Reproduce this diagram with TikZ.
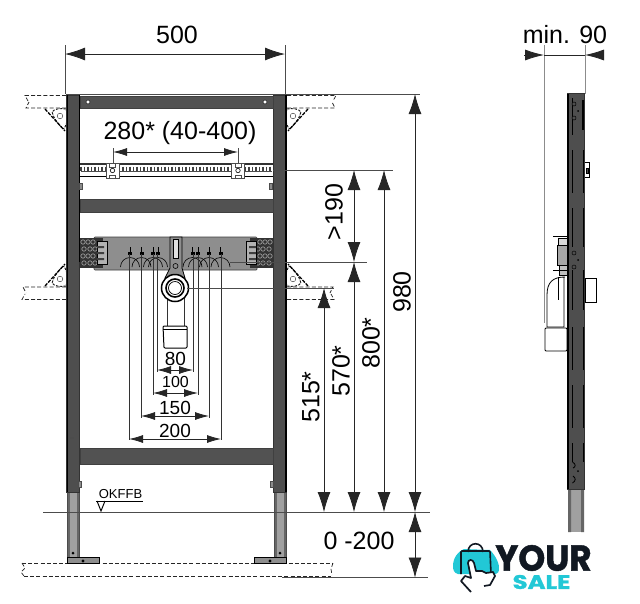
\documentclass[tikz,border=0pt]{standalone}
\usepackage{fontspec}
\setmainfont{Liberation Sans}
\newfontfamily\logofont[BoldFeatures={FakeBold=1.3}]{Poppins}
\usetikzlibrary{arrows.meta}
\definecolor{post}{HTML}{4E4E4E}
\definecolor{bar}{HTML}{525252}
\definecolor{plate}{HTML}{8E8E8E}
\definecolor{legc}{HTML}{A0A0A0}
\definecolor{legs}{HTML}{666666}
\definecolor{teal}{HTML}{22C8D6}
\definecolor{ink}{HTML}{111822}
\tikzset{
  dim/.style={draw=black!85,line width=0.8pt,{Latex[length=20pt,width=13pt]}-{Latex[length=20pt,width=13pt]}},
  dimsm/.style={draw=black!85,line width=0.8pt,{Latex[length=14pt,width=8pt]}-{Latex[length=14pt,width=8pt]}},
  ext/.style={draw=black!70,line width=0.8pt},
  extg/.style={draw=black!45,line width=1pt},
  lbl/.style={inner sep=0pt,font=\fontsize{25}{25}\selectfont},
  lblv/.style={lbl,rotate=90},
  hidden/.style={draw=black!85,line width=0.7pt,dash pattern=on 4pt off 2.2pt},
  blobline/.style={draw=black!90,line width=0.9pt,dash pattern=on 2.5pt off 1.3pt},
  steel/.style={fill=post,draw=black!80,line width=0.5pt},
  wallbar/.style={fill=bar,draw=black!75,line width=0.5pt},
}
\begin{document}
\begin{tikzpicture}[x=1pt,y=-1pt]
\useasboundingbox[fill=white] (0,0) rectangle (640,603);

% walls and anchors
\foreach \ox/\oy/\sx/\sy/\len in {287/94/1/1/49, 66/94/-1/1/41, 287/301/1/-1/47, 66/301/-1/-1/44}{
  \begin{scope}[shift={(\ox,\oy)},xscale=\sx,yscale=\sy]
    \draw[hidden] (0,1.5) -- (\len,1.5) -- (\len-3,7) (0,14) -- (\len-1,14) -- (\len-4,8);
    \draw[blobline] (0,15) .. controls (6,14) and (12,15) .. (14,18) .. controls (12,25) and (7,32) .. (2,35) .. controls (-2,28) and (-2,20) .. (0,15);
    \draw[black,line width=1.3pt,dash pattern=on 3.5pt off 1.2pt] (21,15) -- (1,37);
    \draw[black!70,line width=0.5pt] (6,22) circle[radius=2.8];
  \end{scope}
}

% floor
\draw[hidden] (22,563) -- (333,563) (24,576) -- (331,576);
\draw[hidden] (22,563) -- (25,568) -- (21,572) -- (24,576) (333,563) -- (331,569) -- (332,575);

% legs
\foreach \lx in {67,274}{
  \fill[legc] (\lx,492) rectangle +(12,65);
  \fill[legs] (\lx,492) rectangle +(2.5,65);
  \fill[legs] (\lx+9.5,492) rectangle +(2.5,65);
  \draw[black!70,line width=0.5pt] (\lx,492) rectangle +(12,65);
  \fill[black] (\lx+6,553) circle[radius=1.5];
}
\draw[black,line width=0.7pt,fill=plate] (67,557) rectangle (99,563);
\draw[black,line width=0.7pt,fill=plate] (254,557) rectangle (286,563);
\fill[black] (83,561) circle[radius=1.6] (270,561) circle[radius=1.6];

% posts
\draw[steel] (66.5,95) rectangle (79.5,492);
\draw[steel] (273.5,95) rectangle (286.5,492);
\draw[black,line width=1.6pt] (79.5,95) -- (79.5,262);
\draw[black,line width=1.8pt] (286,95) -- (286,492);
\draw[black,line width=0.8pt] (67,95) -- (67,492);
\draw[black!70,line width=1.2pt] (70,438) -- (74,438) (278,438) -- (282,438);
\foreach \tx/\ty in {81/186,271/186,80/484,272/484}{
  \draw[black!70,fill=black!45,line width=0.5pt] (\tx-1.5,\ty-3) rectangle (\tx+1.5,\ty+3);
}

% cross bars
\draw[wallbar] (80,96) rectangle (273,108);
\fill[white,draw=black,line width=0.4pt] (88,102) circle[radius=2] (265,102) circle[radius=2];
\draw[wallbar] (80,199.5) rectangle (273,212);
\draw[wallbar] (80,448) rectangle (273,464.5);

% rail
\draw[black!80,line width=1.2pt] (80,164) -- (273,164);
\draw[black,line width=1.8pt] (80,176.5) -- (273,176.5);
\draw[black!70,line width=0.7pt] (81,171) -- (272,171);
\foreach \n in {0,...,54}{
  \draw[black!75,line width=1.2pt] (81+\n*3.5,166.5) -- (81+\n*3.5,171);
}
\foreach \cx in {112.5,238}{
  \draw[black!70,fill=white,line width=0.6pt] (\cx-6.5,163) rectangle (\cx+6.5,178);
  \draw[black,line width=0.6pt] (\cx,170.5) circle[radius=2.2];
  \draw[black!70,line width=0.6pt] (\cx-3,163) -- (\cx-3,167) -- (\cx+3,167) -- (\cx+3,163) (\cx-3,178) -- (\cx-3,175) -- (\cx+3,175) -- (\cx+3,178);
}

% connection plate
\draw[black!75,fill=plate,line width=0.7pt,rounded corners=1pt] (94,237) rectangle (257,270);
\foreach \bx/\sx in {80/1,273/-1}{
  \begin{scope}[shift={(\bx,238)},xscale=\sx]
    \fill[black!80] (0,0) rectangle (23,30);
    \foreach \p/\q in {3/4,8/4,13/4,4/11,10/11,15/11,3/18,8/18,13/18,4/25,10/25,15/25}{
      \draw[black!40,line width=0.7pt] (\p,\q) circle[radius=2.2];
    }
    \draw[black,fill=black!30,line width=0.7pt] (17,3) rectangle (27,26);
    \fill[black!75] (17,8) rectangle (24,10) (17,14) rectangle (24,16) (17,20) rectangle (24,22);
  \end{scope}
}
\foreach \ax in {130,141.5,153,158,192.5,198,209,220.5}{
  \draw[black,line width=0.6pt] (\ax-9.5,267) arc[start angle=180,end angle=360,radius=9.5];
  \fill[black] (\ax-2,252) rectangle (\ax+2,254.5);
  \draw[black,line width=0.7pt] (\ax,247) -- (\ax,252);
}
% centre column, trap and socket
\draw[black,line width=0.8pt,fill=plate] (170,237) -- (182,237) -- (182,268) -- (185,278) -- (165,278) -- (170,268) -- cycle;
\draw[black,line width=0.6pt,fill=black!12] (173.5,239) rectangle (178.5,258);
\draw[black,line width=0.6pt] (175.5,266) circle[radius=2.5];
\draw[black!80,line width=0.8pt,fill=white] (167,296) -- (184,296) -- (184,326) -- (167,326) -- cycle;
\draw[black,line width=1pt,fill=white,rounded corners=1pt] (163,326) -- (187,326) -- (187,348) -- (164,348) -- cycle;
\draw[black,line width=0.8pt] (163,329) -- (187,329);
\draw[black,line width=1.5pt,fill=white] (175,288) circle[radius=13.5];
\draw[black,line width=1.6pt,fill=white] (175,288) circle[radius=9];
\draw[black,line width=0.7pt] (175,288) circle[radius=6.5];

% dimensions of the plate
\foreach \vx/\vy in {129/440,141/418,153/395,157/372,193/372,198/395,209/418,221/440}{
  \draw[black!80,line width=0.7pt] (\vx,254) -- (\vx,\vy);
}
\coordinate (a80l) at (157,370); \coordinate (a80r) at (193,370);
\coordinate (a100l) at (153,393); \coordinate (a100r) at (198,393);
\coordinate (a150l) at (141,416); \coordinate (a150r) at (209,416);
\coordinate (a200l) at (129,439); \coordinate (a200r) at (221,439);
\draw[dimsm] (a80l) -- (a80r);
\draw[dimsm] (a100l) -- (a100r);
\draw[dimsm] (a150l) -- (a150r);
\draw[dimsm] (a200l) -- (a200r);
\node[lbl,font=\fontsize{19}{19}\selectfont] (t80) at (175.5,358.5) {80};
\node[lbl,font=\fontsize{16}{16}\selectfont] (t100) at (175.5,382) {100};
\node[lbl,font=\fontsize{19}{19}\selectfont] (t150) at (175,408) {150};
\node[lbl,font=\fontsize{19}{19}\selectfont] (t200) at (175,431) {200};

% OKFFB
\node[lbl,font=\fontsize{13}{13}\selectfont] (ok) at (120.5,494) {OKFFB};
\draw[black,line width=1pt] (96,501) -- (143,501);
\draw[black,line width=1pt] (97,501) -- (101,511) -- (105,501);

% reference lines
\coordinate (okL) at (43,512); \coordinate (okR) at (430,512);
\coordinate (flL) at (282,577.5); \coordinate (flR) at (428,577.5);
\draw[ext] (okL) -- (okR);
\draw[ext] (flL) -- (flR);
\coordinate (topR) at (420,94); \coordinate (topL) at (66,94);
\draw[ext] (topL) -- (topR);
\draw[ext] (273,170) -- (393,170);
\draw[ext] (230,262) -- (367,262);
\draw[ext] (187,288) -- (334,288);

% width 500
\coordinate (w1) at (65,54); \coordinate (w2) at (285,54);
\draw[ext] (65,45) -- (65,94) (285,45) -- (285,94);
\draw[dim] (w1) -- (w2);
\node[lbl] (t500) at (177,35) {500};

% 280*
\coordinate (c1) at (113,152); \coordinate (c2) at (238,152);
\draw[ext,line width=0.6pt] (113,148) -- (113,164) (238,148) -- (238,164);
\draw[dimsm] (c1) -- (c2);
\node[lbl] (t280) at (180,133) {280* (40-400)};

% vertical dimensions
\coordinate (d980a) at (415,94); \coordinate (d980b) at (415,512);
\coordinate (d980c) at (415,577.5);
\draw[dim] (d980a) -- (d980b);
\draw[dim] (d980b) -- (d980c);
\coordinate (d800a) at (384,170); \coordinate (d800b) at (384,512);
\draw[dim] (d800a) -- (d800b);
\coordinate (d570a) at (354,262); \coordinate (d570b) at (354,512);
\draw[dim] (d570a) -- (d570b);
\coordinate (d190a) at (354,170); \coordinate (d190b) at (354,262);
\draw[dim] (d190a) -- (d190b);
\coordinate (d515a) at (324,288); \coordinate (d515b) at (324,512);
\draw[dim] (d515a) -- (d515b);
\node[lblv] (t980) at (402,292) {980};
\node[lblv] (t800) at (371,343) {800*};
\node[lblv] (t570) at (341,371) {570*};
\node[lblv] (t515) at (311,397) {515*};
\node[lblv] (t190) at (334,212) {>190};
\node[lbl] (t0200) at (359,541) {0 -200};

% side view
\draw[extg] (544,45) -- (544,323);
\draw[extg] (585,45) -- (585,94);
\coordinate (m1) at (544,55); \coordinate (m2) at (585,55);
\coordinate (m1o) at (524,55); \coordinate (m2o) at (603,55);
\draw[black!85,line width=0.8pt,-{Latex[length=19pt,width=11pt]}] (m1o) -- (m1);
\draw[black!85,line width=0.8pt,-{Latex[length=19pt,width=11pt]}] (m2o) -- (m2);
\draw[black!85,line width=0.8pt] (m1) -- (m2);
\node[lbl] (tmin) at (565,35) {min. 90};

% side: pipe and brackets
\draw[black,line width=0.8pt,fill=white] (565,277) .. controls (553,277) and (547,282) .. (547,295) -- (547,327) -- (564,327) -- (564,277);
\draw[black,line width=1pt] (558,277) -- (558,300);
\draw[black,line width=0.9pt,fill=white,rounded corners=1pt] (545,328) -- (567,328) -- (567,351) -- (545,351) -- cycle;
\draw[black,line width=0.8pt,fill=white] (585,278) rectangle (596,302);
\draw[black,line width=0.8pt,fill=white] (585,162) -- (589,162) -- (589,177) -- (585,177);
\draw[black,line width=0.6pt,fill=black!70] (586,168) rectangle (588,173);
\draw[black,line width=0.7pt,fill=black!35] (557,245) rectangle (567,265);
\draw[black,line width=0.7pt,fill=black!15] (558,238) rectangle (567,245);
\draw[black,line width=0.7pt,fill=black!25] (559,265) rectangle (567,275);
\draw[black,line width=0.8pt] (553,236) -- (567,236) (553,270) -- (567,270);
% side: leg and channel
\fill[legc] (568,489) rectangle (584,532);
\fill[legs] (568,489) rectangle (571,532) (581,489) rectangle (584,532);
\draw[black!80,line width=0.6pt,fill=post] (567.5,93.5) rectangle (584.5,489);
\draw[black,line width=1.3pt] (568,94) -- (568,489);
\draw[black,line width=2.2pt] (583,100) -- (583,130);
\foreach \a/\b in {150/193,208/247,270/310,327/370,385/428,443/462}{
  \draw[black,line width=0.8pt] (572.5,\a) -- (572.5,\b);
  \draw[black,line width=0.9pt] (583,\a) -- (583,\b);
}
\draw[black,line width=0.8pt] (572.5,98) -- (572.5,135);
\foreach \hy in {104,118,253,267}{
  \draw[black,line width=0.5pt,fill=post] (574,\hy) circle[radius=2];
}
\draw[black,line width=0.8pt] (572.5,462) .. controls (576,464) and (576,467) .. (573,468) (573,476) .. controls (576,478) and (576,481) .. (572.5,483);
\fill[black] (578,111) circle[radius=1] (578,260) circle[radius=1] (578,471) circle[radius=1];

% logo
\fill[teal] (453,566) .. controls (453,557) and (459,551) .. (464,549) -- (490,550) .. controls (496,556) and (500,565) .. (499,570) .. controls (499,574) and (494,575) .. (490,574) -- (470,574) -- (458,574) .. controls (454,573) and (453,570) .. (453,566) -- cycle;
\draw[ink,line width=1.6pt,rounded corners=1pt] (461,574) -- (461,551) -- (490,551) -- (491,574);
\draw[ink,line width=1.6pt] (468,552) .. controls (468,541) and (483,541) .. (483,552);
\draw[ink,line width=1.7pt,fill=white,line join=round] (471,592) -- (461,581) -- (465,576) -- (471,578) -- (468,563) .. controls (468,559) and (473,559) .. (474,563) -- (476,571) -- (482,571) -- (486,573) -- (493,572) -- (495,576) -- (490,585) -- (484,586);
\node[inner sep=0pt,text=ink,font=\logofont\bfseries\fontsize{36}{36}\selectfont,xscale=0.95,anchor=center] (ly) at (543.5,558) {YOUR};
\node[inner sep=0pt,text=teal,font=\logofont\bfseries\fontsize{19.5}{19.5}\selectfont,xscale=1.25,anchor=center] (ls) at (541.5,582) {SALE};
\end{tikzpicture}
\end{document}
